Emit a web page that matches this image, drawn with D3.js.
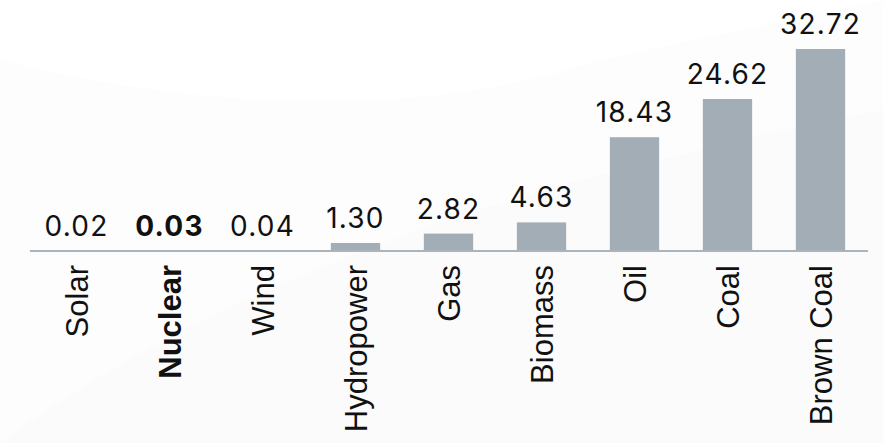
<!DOCTYPE html>
<html>
<head>
<meta charset="utf-8">
<script src="https://cdn.jsdelivr.net/npm/d3@7"></script>
<style>
  html, body { margin: 0; padding: 0; background: #ffffff; }
  svg { display: block; }
</style>
</head>
<body>
<div id="chart"></div>
<script>
const categories = ["Solar", "Nuclear", "Wind", "Hydropower", "Gas", "Biomass", "Oil", "Coal", "Brown Coal"];
const values = [0.02, 0.03, 0.04, 1.30, 2.82, 4.63, 18.43, 24.62, 32.72];
const valueLabels = ["0.02", "0.03", "0.04", "1.30", "2.82", "4.63", "18.43", "24.62", "32.72"];
const highlighted = ["Nuclear"];

const W = 883, H = 443;
const svg = d3.select("#chart").append("svg").attr("width", W).attr("height", H);

// faint decorative background shapes
const bg = svg.append("g");
bg.append("path")
  .attr("d", "M0,60 C200,110 420,120 600,60 L883,0 L883,443 L0,443 Z")
  .attr("fill", "#fdfdfd");
bg.append("path")
  .attr("d", "M0,443 C150,330 380,230 620,170 C720,145 820,120 883,110 L883,443 Z")
  .attr("fill", "#fbfbfb");

const x = d3.scaleBand().domain(categories).range([30, 867]).paddingInner(0.47).paddingOuter(0.235);
const y = d3.scaleLinear().domain([0, 32.72]).range([251, 49]);

const data = categories.map((c, i) => ({ c, v: values[i], lab: valueLabels[i] }));

svg.append("g").selectAll("rect").data(data).join("rect")
  .attr("x", d => x(d.c))
  .attr("y", d => y(d.v))
  .attr("width", x.bandwidth())
  .attr("height", d => y(0) - y(d.v))
  .attr("fill", "#a2adb5");

// baseline axis
const axis = d3.axisBottom(x).tickSize(0).tickFormat("");
const ax = svg.append("g").attr("transform", `translate(0,${y(0)})`).call(axis);
ax.select(".domain").attr("stroke", "#a9b4bc").attr("stroke-width", 2.2).attr("d", "M30,0H868");

// value labels
svg.append("g").selectAll("text").data(data).join("text")
  .attr("x", d => x(d.c) + x.bandwidth() / 2)
  .attr("y", d => y(d.v) - 15)
  .attr("text-anchor", "middle")
  .attr("font-family", "Inter, 'DejaVu Sans', sans-serif")
  .attr("font-size", 28)
  .attr("letter-spacing", 1.2)
  .attr("font-weight", d => highlighted.includes(d.c) ? 700 : 400)
  .attr("fill", "#111")
  .text(d => d.lab);

// category labels
svg.append("g").selectAll("text").data(data).join("text")
  .attr("transform", d => `translate(${x(d.c) + x.bandwidth() / 2},265) rotate(-90)`)
  .attr("text-anchor", "end")
  .attr("dy", "0.36em")
  .attr("font-family", "'Liberation Sans', Arial, sans-serif")
  .attr("font-size", 31)
  .attr("font-weight", d => highlighted.includes(d.c) ? 700 : 400)
  .attr("fill", "#111")
  .text(d => d.c);
</script>
</body>
</html>
